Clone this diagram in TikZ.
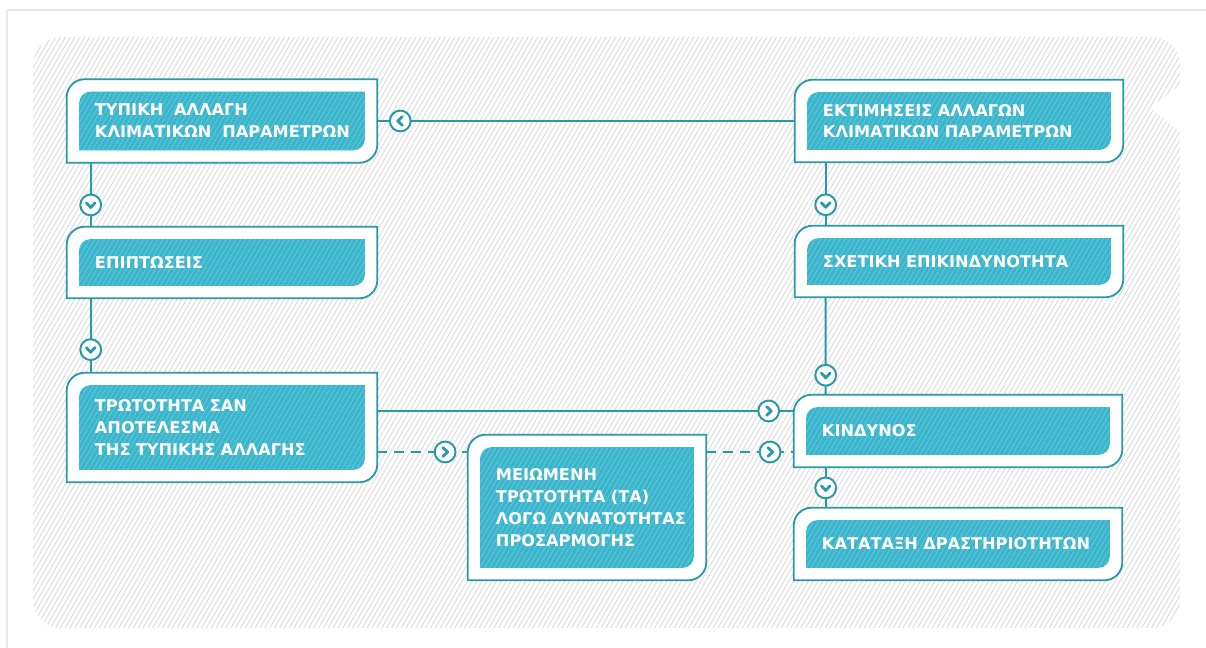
\documentclass[tikz,border=0pt]{standalone}
\usepackage{fontspec}
\setsansfont{DejaVu Sans}
\usetikzlibrary{backgrounds,patterns.meta}

\definecolor{tealline}{RGB}{40,154,166}
\definecolor{boxfill}{RGB}{58,181,204}
\definecolor{boxstripe}{RGB}{98,198,216}
\definecolor{bgstripe}{RGB}{222,222,222}
\definecolor{framegray}{RGB}{232,232,232}

% outline of a box, rounded at top left and bottom right
\newcommand{\boxpath}[3]{([shift={(#2,0)}]#1.west) [rounded corners=#3]
  -- ([shift={(#2,#2)}]#1.north west) -- ([shift={(0,#2)}]#1.north) [sharp corners]
  -- ([shift={(-#2,#2)}]#1.north east) -- ([shift={(-#2,0)}]#1.east) [rounded corners=#3]
  -- ([shift={(-#2,-#2)}]#1.south east) -- ([shift={(0,-#2)}]#1.south) [sharp corners]
  -- ([shift={(#2,-#2)}]#1.south west) -- cycle}

\tikzset{
  stage/.style={rectangle, inner xsep=0.7cm, inner ysep=0pt, align=left, text=white,
    font=\sffamily\bfseries\fontsize{11.5}{15.5}\selectfont},
  conn/.style={draw=tealline, line width=1.4pt},
  chevline/.style={tealline, solid, line width=2pt, line cap=round, line join=round},
  chev/.style={circle, draw=tealline, fill=white, solid, line width=1.4pt, minimum size=0.52cm,
    inner sep=0pt},
  cright/.style={chev, path picture={\draw[chevline]
    ([shift={(-1.5pt,3.1pt)}]path picture bounding box.center) --
    ([shift={(1.8pt,0pt)}]path picture bounding box.center) --
    ([shift={(-1.5pt,-3.1pt)}]path picture bounding box.center);}},
  cleft/.style={chev, path picture={\draw[chevline]
    ([shift={(1.5pt,3.1pt)}]path picture bounding box.center) --
    ([shift={(-1.8pt,0pt)}]path picture bounding box.center) --
    ([shift={(1.5pt,-3.1pt)}]path picture bounding box.center);}},
  cdown/.style={chev, path picture={\draw[chevline]
    ([shift={(-3.1pt,1.5pt)}]path picture bounding box.center) --
    ([shift={(0pt,-1.8pt)}]path picture bounding box.center) --
    ([shift={(3.1pt,1.5pt)}]path picture bounding box.center);}},
}

\begin{document}
\begin{tikzpicture}[x=0.025cm, y=-0.025cm]
\useasboundingbox (0,0) rectangle (1206,648);

\node[stage, minimum width=7.75cm, minimum height=2.075cm, text width=6.35cm] (tipiki) at (222,121)
  {ΤΥΠΙΚΗ~~ΑΛΛΑΓΗ\\ΚΛΙΜΑΤΙΚΩΝ~~ΠΑΡΑΜΕΤΡΩΝ};
\node[stage, minimum width=8.2cm, minimum height=2.05cm, text width=6.8cm] (ektim) at (959,121)
  {ΕΚΤΙΜΗΣΕΙΣ~ΑΛΛΑΓΩΝ\\ΚΛΙΜΑΤΙΚΩΝ~ΠΑΡΑΜΕΤΡΩΝ};
\node[stage, minimum width=7.75cm, minimum height=1.775cm, text width=6.35cm] (epipt) at (222,262.5)
  {ΕΠΙΠΤΩΣΕΙΣ};
\node[stage, minimum width=8.2cm, minimum height=1.775cm, text width=6.8cm] (sxetiki) at (959,261.5)
  {ΣΧΕΤΙΚΗ~ΕΠΙΚΙΝΔΥΝΟΤΗΤΑ};
\node[stage, minimum width=7.75cm, minimum height=2.725cm, text width=6.35cm] (trotot) at (222,427.5)
  {ΤΡΩΤΟΤΗΤΑ~ΣΑΝ\\ΑΠΟΤΕΛΕΣΜΑ\\ΤΗΣ~ΤΥΠΙΚΗΣ~ΑΛΛΑΓΗΣ};
\node[stage, minimum width=5.95cm, minimum height=3.625cm, text width=4.55cm] (meiom) at (587,507.5)
  {ΜΕΙΩΜΕΝΗ\\ΤΡΩΤΟΤΗΤΑ~(ΤΑ)\\ΛΟΓΩ~ΔΥΝΑΤΟΤΗΤΑΣ\\ΠΡΟΣΑΡΜΟΓΗΣ};
\node[stage, minimum width=8.2cm, minimum height=1.8cm, text width=6.8cm] (kindyn) at (958,431)
  {ΚΙΝΔΥΝΟΣ};
\node[stage, minimum width=8.2cm, minimum height=1.8cm, text width=6.8cm] (katat) at (958,544)
  {ΚΑΤΑΤΑΞΗ~ΔΡΑΣΤΗΡΙΟΤΗΤΩΝ};

\begin{scope}[on background layer]
  \fill[white] (0,0) rectangle (1206,648);
  \draw[framegray, line width=0.8pt] (7,648) -- (7,10) -- (1206,10);
  \fill[pattern={Lines[angle=60,distance=3pt,line width=0.7pt]}, pattern color=bgstripe]
    (33,330) [rounded corners=0.7cm] -- (33,37) -- (600,37) -- (1180,37) -- (1180,70)
    [rounded corners=0.05cm] -- (1180,85) -- (1150,108) -- (1180,132) -- (1180,150)
    [rounded corners=0.7cm] -- (1180,628) -- (33,628) -- cycle;
  \foreach \n in {tipiki,ektim,epipt,sxetiki,trotot,meiom,kindyn,katat} {
    \draw[tealline, line width=1.3pt, fill=white] \boxpath{\n}{0}{0.45cm};
    \fill[boxfill, postaction={pattern={Lines[angle=60,distance=3pt,line width=0.6pt]},
      pattern color=boxstripe}] \boxpath{\n}{12.5}{0.28cm};
  }
\end{scope}

\coordinate (kA) at ([yshift=0.5cm]kindyn.west);
\coordinate (kB) at ([yshift=-0.525cm]kindyn.west);

\draw[conn] (ektim.west) -- node[cleft, pos=0.945] {} (tipiki.east);
\draw[conn] ([xshift=0.6cm]tipiki.south west) -- node[cdown, pos=0.66] {} ([xshift=0.6cm]epipt.north west);
\draw[conn] ([xshift=0.6cm]epipt.south west) -- node[cdown, pos=0.69] {} ([xshift=0.6cm]trotot.north west);
\draw[conn] ([xshift=0.775cm]ektim.south west) -- node[cdown, pos=0.67] {} ([xshift=0.775cm]sxetiki.north west);
\draw[conn] ([xshift=0.775cm]sxetiki.south west) -- node[cdown, pos=0.8] {} ([xshift=0.8cm]kindyn.north west);
\draw[conn] ([xshift=0.8cm]kindyn.south west) -- node[cdown, pos=0.51] {} ([xshift=0.8cm]katat.north west);
\draw[conn] (trotot.east |- kA) -- node[cright, pos=0.94] {} (kA);
\draw[conn, dash pattern=on 7pt off 5pt] (trotot.east |- kB) -- node[cright, pos=0.75] {} (meiom.west |- kB);
\draw[conn, dash pattern=on 7pt off 5pt] (meiom.east |- kB) -- node[cright, pos=0.73] {} (kB);
\end{tikzpicture}
\end{document}
